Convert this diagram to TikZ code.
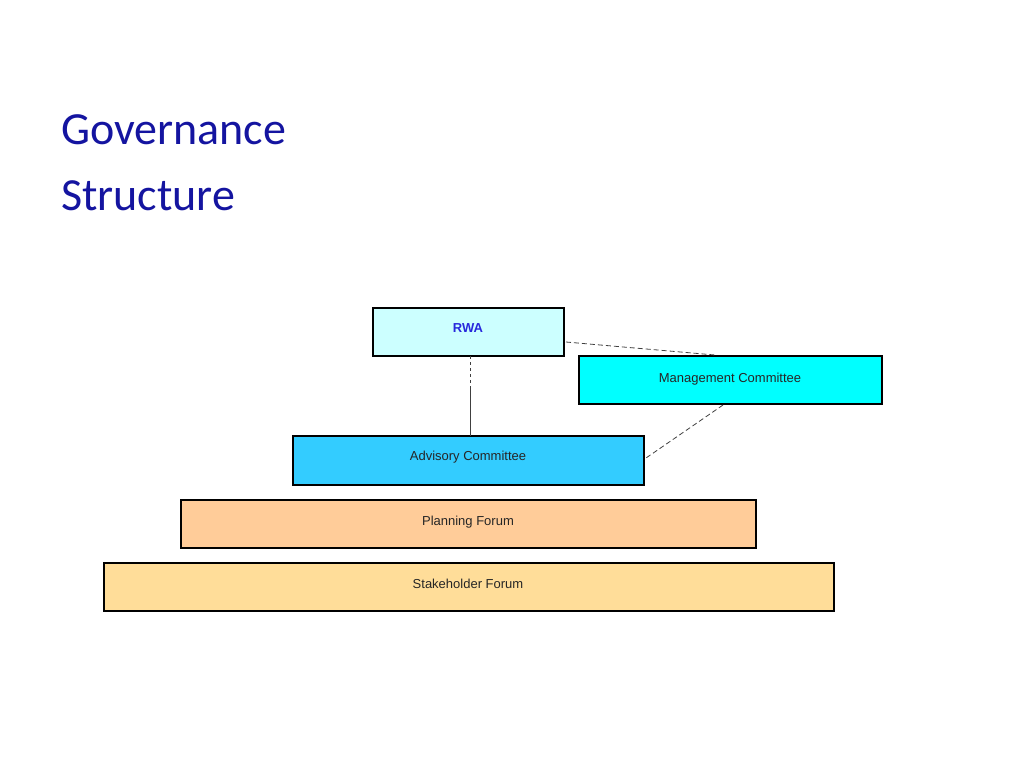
\documentclass[tikz,border=0pt]{standalone}
\usepackage{fontspec}
\setmainfont{Liberation Sans}
\newfontfamily\titlefont{Carlito}
\begin{document}
\begin{tikzpicture}[x=1pt,y=-1pt,
  box/.style={draw=black,line width=1.3pt},
  lbl/.style={font=\fontsize{13}{15}\selectfont,text=black!85,anchor=base,inner sep=0},
  con/.style={line width=0.8pt,black!75}]
\useasboundingbox (0,0) rectangle (1024,768);
\node[anchor=base west,inner sep=0,text={rgb,255:red,20;green,20;blue,160},font=\titlefont\fontsize{46}{65}\selectfont] (t1) at (61,144) {Governance};
\node[anchor=base west,inner sep=0,text={rgb,255:red,20;green,20;blue,160},font=\titlefont\fontsize{46}{65}\selectfont] (t2) at (61,210) {Structure};
\draw[box,fill={rgb,255:red,204;green,255;blue,255}] (373,308) rectangle (564,356);
\coordinate (rwaB) at (470,356); \coordinate (rwaR) at (566,342);
\node[lbl,font=\bfseries\fontsize{13}{15}\selectfont,text={rgb,255:red,40;green,40;blue,220}] (rwa) at (468,332) {RWA};
\draw[box,fill={rgb,255:red,0;green,255;blue,255}] (579,356) rectangle (882,404);
\coordinate (mT) at (715,355); \coordinate (mB) at (723,405);
\node[lbl] (mg) at (730,382) {Management Committee};
\draw[box,fill={rgb,255:red,51;green,204;blue,255}] (293,436) rectangle (644,485);
\coordinate (aT) at (470,436); \coordinate (aR) at (646,458); \coordinate (mid) at (470,386);
\node[lbl] (ad) at (468,460) {Advisory Committee};
\draw[box,fill={rgb,255:red,255;green,204;blue,153}] (181,500) rectangle (756,548);
\node[lbl] (pf) at (468,525) {Planning Forum};
\draw[box,fill={rgb,255:red,255;green,221;blue,153}] (104,563) rectangle (834,611);
\node[lbl] (sf) at (468,588) {Stakeholder Forum};
\draw[con,dashed] (rwaB) -- (mid);
\draw[con] (mid) -- (aT);
\draw[con,dashed,dash pattern=on 5pt off 3pt] (rwaR) -- (mT);
\draw[con,dashed,dash pattern=on 5pt off 3pt] (mB) -- (aR);
\end{tikzpicture}
\end{document}
